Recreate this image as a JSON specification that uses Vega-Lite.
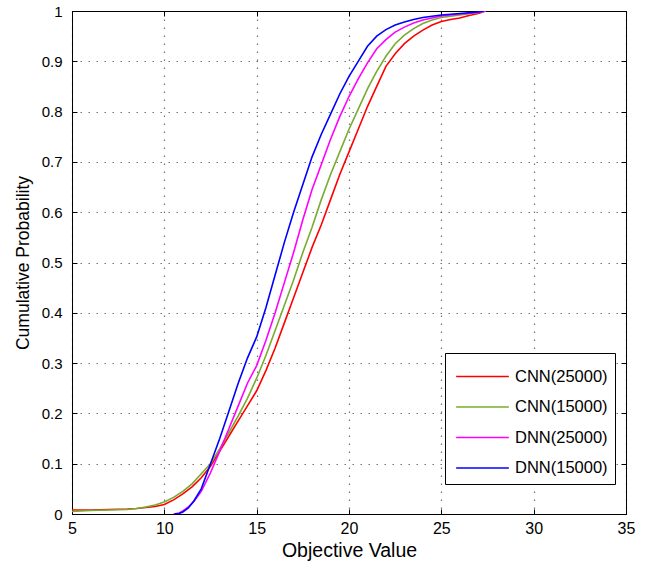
{
  "$schema": "https://vega.github.io/schema/vega-lite/v6.json",
  "width": 554,
  "height": 503,
  "autosize": {"type": "none"},
  "padding": {"left": 72, "top": 11, "right": 31, "bottom": 50},
  "background": "white",
  "config": {
    "view": {"stroke": "black", "strokeWidth": 1},
    "font": "Liberation Sans",
    "axis": {
      "labelFont": "Liberation Sans",
      "titleFont": "Liberation Sans",
      "titleFontWeight": "normal",
      "labelColor": "black",
      "titleColor": "black",
      "domainColor": "black",
      "tickColor": "black",
      "tickSize": -5,
      "labelFlush": false,
      "labelOverlap": false,
      "gridColor": "#000000",
      "gridDash": [1.5, 6.5],
      "gridOpacity": 0.55,
      "gridWidth": 1.2
    }
  },
  "data": {
    "values": [
      {"s":"CNN(25000)","x":5,"y":0.008},{"s":"CNN(25000)","x":6,"y":0.008},{"s":"CNN(25000)","x":7,"y":0.009},{"s":"CNN(25000)","x":8,"y":0.01},{"s":"CNN(25000)","x":8.5,"y":0.011},{"s":"CNN(25000)","x":9,"y":0.013},{"s":"CNN(25000)","x":9.5,"y":0.015},{"s":"CNN(25000)","x":10,"y":0.019},{"s":"CNN(25000)","x":10.5,"y":0.028},{"s":"CNN(25000)","x":11,"y":0.04},{"s":"CNN(25000)","x":11.5,"y":0.054},{"s":"CNN(25000)","x":12,"y":0.072},{"s":"CNN(25000)","x":12.5,"y":0.095},{"s":"CNN(25000)","x":13,"y":0.125},{"s":"CNN(25000)","x":13.5,"y":0.155},{"s":"CNN(25000)","x":14,"y":0.185},{"s":"CNN(25000)","x":14.5,"y":0.215},{"s":"CNN(25000)","x":15,"y":0.245},{"s":"CNN(25000)","x":15.5,"y":0.285},{"s":"CNN(25000)","x":16,"y":0.33},{"s":"CNN(25000)","x":16.5,"y":0.38},{"s":"CNN(25000)","x":17,"y":0.43},{"s":"CNN(25000)","x":17.5,"y":0.48},{"s":"CNN(25000)","x":18,"y":0.53},{"s":"CNN(25000)","x":18.5,"y":0.575},{"s":"CNN(25000)","x":19,"y":0.625},{"s":"CNN(25000)","x":19.5,"y":0.675},{"s":"CNN(25000)","x":20,"y":0.72},{"s":"CNN(25000)","x":20.5,"y":0.765},{"s":"CNN(25000)","x":21,"y":0.81},{"s":"CNN(25000)","x":21.5,"y":0.85},{"s":"CNN(25000)","x":22,"y":0.89},{"s":"CNN(25000)","x":22.5,"y":0.915},{"s":"CNN(25000)","x":23,"y":0.935},{"s":"CNN(25000)","x":23.5,"y":0.95},{"s":"CNN(25000)","x":24,"y":0.962},{"s":"CNN(25000)","x":24.5,"y":0.972},{"s":"CNN(25000)","x":25,"y":0.979},{"s":"CNN(25000)","x":25.5,"y":0.983},{"s":"CNN(25000)","x":26,"y":0.986},{"s":"CNN(25000)","x":26.5,"y":0.991},{"s":"CNN(25000)","x":27,"y":0.995},{"s":"CNN(25000)","x":27.4,"y":1},
      {"s":"CNN(15000)","x":5,"y":0.005},{"s":"CNN(15000)","x":6,"y":0.007},{"s":"CNN(15000)","x":7,"y":0.008},{"s":"CNN(15000)","x":8,"y":0.009},{"s":"CNN(15000)","x":8.5,"y":0.011},{"s":"CNN(15000)","x":9,"y":0.014},{"s":"CNN(15000)","x":9.5,"y":0.018},{"s":"CNN(15000)","x":10,"y":0.024},{"s":"CNN(15000)","x":10.5,"y":0.033},{"s":"CNN(15000)","x":11,"y":0.045},{"s":"CNN(15000)","x":11.5,"y":0.06},{"s":"CNN(15000)","x":12,"y":0.08},{"s":"CNN(15000)","x":12.5,"y":0.1},{"s":"CNN(15000)","x":13,"y":0.13},{"s":"CNN(15000)","x":13.5,"y":0.162},{"s":"CNN(15000)","x":14,"y":0.195},{"s":"CNN(15000)","x":14.5,"y":0.23},{"s":"CNN(15000)","x":15,"y":0.27},{"s":"CNN(15000)","x":15.5,"y":0.315},{"s":"CNN(15000)","x":16,"y":0.365},{"s":"CNN(15000)","x":16.5,"y":0.415},{"s":"CNN(15000)","x":17,"y":0.465},{"s":"CNN(15000)","x":17.5,"y":0.52},{"s":"CNN(15000)","x":18,"y":0.57},{"s":"CNN(15000)","x":18.5,"y":0.625},{"s":"CNN(15000)","x":19,"y":0.675},{"s":"CNN(15000)","x":19.5,"y":0.72},{"s":"CNN(15000)","x":20,"y":0.765},{"s":"CNN(15000)","x":20.5,"y":0.805},{"s":"CNN(15000)","x":21,"y":0.845},{"s":"CNN(15000)","x":21.5,"y":0.88},{"s":"CNN(15000)","x":22,"y":0.91},{"s":"CNN(15000)","x":22.5,"y":0.935},{"s":"CNN(15000)","x":23,"y":0.952},{"s":"CNN(15000)","x":23.5,"y":0.965},{"s":"CNN(15000)","x":24,"y":0.975},{"s":"CNN(15000)","x":24.5,"y":0.982},{"s":"CNN(15000)","x":25,"y":0.987},{"s":"CNN(15000)","x":26,"y":0.992},{"s":"CNN(15000)","x":27,"y":0.997},{"s":"CNN(15000)","x":27.4,"y":1},
      {"s":"DNN(25000)","x":10.5,"y":0},{"s":"DNN(25000)","x":10.8,"y":0.002},{"s":"DNN(25000)","x":11,"y":0.006},{"s":"DNN(25000)","x":11.3,"y":0.014},{"s":"DNN(25000)","x":11.6,"y":0.025},{"s":"DNN(25000)","x":12,"y":0.045},{"s":"DNN(25000)","x":12.5,"y":0.082},{"s":"DNN(25000)","x":13,"y":0.125},{"s":"DNN(25000)","x":13.5,"y":0.17},{"s":"DNN(25000)","x":14,"y":0.215},{"s":"DNN(25000)","x":14.5,"y":0.26},{"s":"DNN(25000)","x":15,"y":0.295},{"s":"DNN(25000)","x":15.5,"y":0.345},{"s":"DNN(25000)","x":16,"y":0.4},{"s":"DNN(25000)","x":16.5,"y":0.46},{"s":"DNN(25000)","x":17,"y":0.52},{"s":"DNN(25000)","x":17.5,"y":0.585},{"s":"DNN(25000)","x":18,"y":0.645},{"s":"DNN(25000)","x":18.5,"y":0.695},{"s":"DNN(25000)","x":19,"y":0.745},{"s":"DNN(25000)","x":19.5,"y":0.79},{"s":"DNN(25000)","x":20,"y":0.83},{"s":"DNN(25000)","x":20.5,"y":0.865},{"s":"DNN(25000)","x":21,"y":0.897},{"s":"DNN(25000)","x":21.5,"y":0.925},{"s":"DNN(25000)","x":22,"y":0.943},{"s":"DNN(25000)","x":22.5,"y":0.958},{"s":"DNN(25000)","x":23,"y":0.968},{"s":"DNN(25000)","x":23.5,"y":0.976},{"s":"DNN(25000)","x":24,"y":0.982},{"s":"DNN(25000)","x":24.5,"y":0.986},{"s":"DNN(25000)","x":25,"y":0.99},{"s":"DNN(25000)","x":26,"y":0.994},{"s":"DNN(25000)","x":27,"y":0.997},{"s":"DNN(25000)","x":27.4,"y":1},
      {"s":"DNN(15000)","x":10.55,"y":0},{"s":"DNN(15000)","x":10.8,"y":0.001},{"s":"DNN(15000)","x":11,"y":0.004},{"s":"DNN(15000)","x":11.3,"y":0.012},{"s":"DNN(15000)","x":11.6,"y":0.026},{"s":"DNN(15000)","x":12,"y":0.05},{"s":"DNN(15000)","x":12.5,"y":0.1},{"s":"DNN(15000)","x":13,"y":0.15},{"s":"DNN(15000)","x":13.5,"y":0.205},{"s":"DNN(15000)","x":14,"y":0.26},{"s":"DNN(15000)","x":14.5,"y":0.31},{"s":"DNN(15000)","x":15,"y":0.352},{"s":"DNN(15000)","x":15.5,"y":0.41},{"s":"DNN(15000)","x":16,"y":0.475},{"s":"DNN(15000)","x":16.5,"y":0.54},{"s":"DNN(15000)","x":17,"y":0.6},{"s":"DNN(15000)","x":17.5,"y":0.655},{"s":"DNN(15000)","x":18,"y":0.71},{"s":"DNN(15000)","x":18.5,"y":0.755},{"s":"DNN(15000)","x":19,"y":0.795},{"s":"DNN(15000)","x":19.5,"y":0.835},{"s":"DNN(15000)","x":20,"y":0.87},{"s":"DNN(15000)","x":20.5,"y":0.9},{"s":"DNN(15000)","x":21,"y":0.93},{"s":"DNN(15000)","x":21.5,"y":0.95},{"s":"DNN(15000)","x":22,"y":0.963},{"s":"DNN(15000)","x":22.5,"y":0.972},{"s":"DNN(15000)","x":23,"y":0.978},{"s":"DNN(15000)","x":23.5,"y":0.983},{"s":"DNN(15000)","x":24,"y":0.987},{"s":"DNN(15000)","x":25,"y":0.992},{"s":"DNN(15000)","x":26,"y":0.995},{"s":"DNN(15000)","x":27,"y":0.998},{"s":"DNN(15000)","x":27.3,"y":1}
    ]
  },
  "layer": [
    {
      "mark": {"type": "line", "strokeWidth": 1.6, "clip": true},
      "encoding": {
        "x": {"field": "x", "type": "quantitative", "scale": {"domain": [5, 35], "nice": false},
              "axis": {"values": [5,10,15,20,25,30,35], "title": "Objective Value", "titleFontSize": 19.5, "labelFontSize": 16, "titlePadding": 5, "labelPadding": 11, "grid": true}},
        "y": {"field": "y", "type": "quantitative", "scale": {"domain": [0, 1], "nice": false},
              "axis": {"values": [0,0.1,0.2,0.3,0.4,0.5,0.6,0.7,0.8,0.9,1], "format": "~g", "title": "Cumulative Probability", "titleFontSize": 17.5, "labelFontSize": 15, "titlePadding": 9, "labelPadding": 15, "grid": true}},
        "color": {"field": "s", "type": "nominal",
                  "scale": {"domain": ["CNN(25000)","CNN(15000)","DNN(25000)","DNN(15000)"], "range": ["#ff0000","#77ac30","#ff00ff","#0000ff"]},
                  "legend": {"orient": "none", "legendX": 373, "legendY": 342, "title": null,
                             "strokeColor": "black", "fillColor": "white", "padding": 7,
                             "symbolType": "M-1.7,0H1.7", "symbolSize": 961, "symbolStrokeWidth": 1.5,
                             "symbolOffset": 14, "labelOffset": 16,
                             "labelFont": "Liberation Sans", "labelFontSize": 16.5, "labelColor": "black", "rowPadding": 5.5}}
      }
    },
    {
      "mark": {"type": "line", "opacity": 0},
      "encoding": {
        "x": {"field": "x", "type": "quantitative", "axis": {"orient": "top", "values": [5,10,15,20,25,30,35], "labels": false, "title": null, "grid": false, "domain": false}},
        "y": {"field": "y", "type": "quantitative", "axis": {"orient": "right", "values": [0,0.1,0.2,0.3,0.4,0.5,0.6,0.7,0.8,0.9,1], "labels": false, "title": null, "grid": false, "domain": false}},
        "detail": {"field": "s"}
      }
    }
  ],
  "resolve": {"axis": {"x": "independent", "y": "independent"}}
}
